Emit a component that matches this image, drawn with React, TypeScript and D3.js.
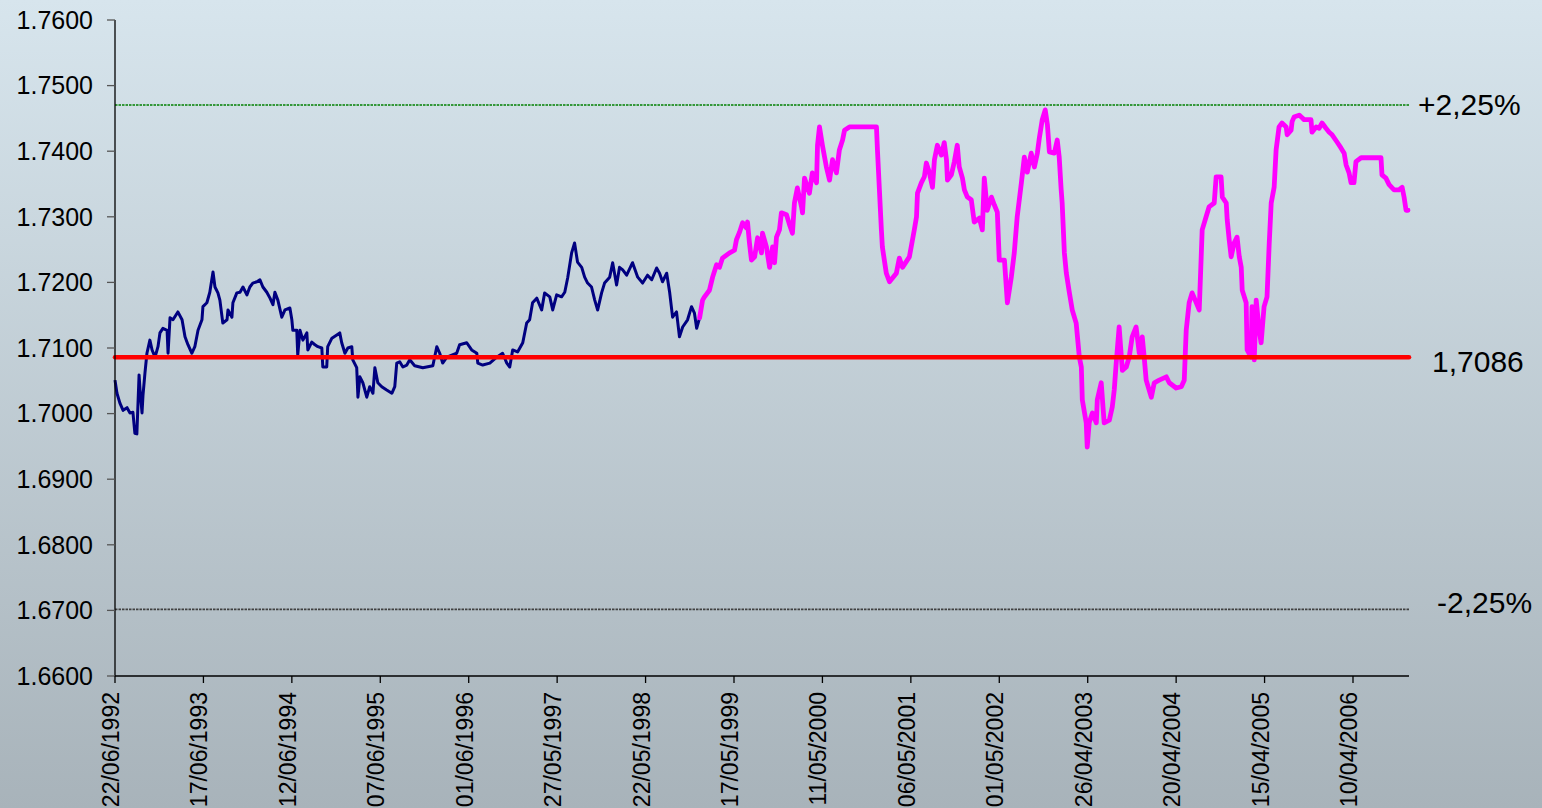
import React, { useEffect } from "react";
import * as d3 from "d3";

// Days since 22/06/1992, exchange rate
const startDate = "22/06/1992";
const lastDay = 5268;
const centralRate = 1.7086;
const bandPct = 0.0225;

const xTickLabels = [
  "22/06/1992", "17/06/1993", "12/06/1994", "07/06/1995", "01/06/1996",
  "27/05/1997", "22/05/1998", "17/05/1999", "11/05/2000", "06/05/2001",
  "01/05/2002", "26/04/2003", "20/04/2004", "15/04/2005", "10/04/2006",
];
const yTicks = [1.66, 1.67, 1.68, 1.69, 1.7, 1.71, 1.72, 1.73, 1.74, 1.75, 1.76];
const bandLabels = ["+2,25%", "1,7086", "-2,25%"];

const bluePoints: [number, number][] = [
  [0,1.7051],[8,1.7031],[20,1.7016],[33,1.7005],[49,1.7009],[61,1.7001],[73,1.7002],[81,1.6970],[89,1.6969],
  [98,1.7059],[102,1.7036],[110,1.7001],[114,1.7028],[122,1.7062],[130,1.7092],[142,1.7112],[151,1.7097],
  [163,1.7086],[175,1.7102],[183,1.7123],[195,1.7130],[212,1.7127],[216,1.7092],[224,1.7146],[236,1.7143],
  [256,1.7155],[273,1.7143],[285,1.7117],[297,1.7105],[313,1.7092],[325,1.7102],[338,1.7127],[354,1.7143],
  [358,1.7163],[374,1.7169],[386,1.7185],[399,1.7216],[407,1.7193],[419,1.7184],[427,1.7173],[439,1.7138],
  [456,1.7143],[460,1.7158],[476,1.7147],[480,1.7169],[496,1.7184],[509,1.7185],[521,1.7193],[537,1.7181],
  [549,1.7193],[561,1.7199],[578,1.7201],[590,1.7204],[602,1.7193],[618,1.7185],[631,1.7176],[643,1.7166],
  [651,1.7185],[663,1.7173],[679,1.7147],[692,1.7158],[712,1.7161],[720,1.7143],[724,1.7127],[740,1.7127],
  [744,1.7089],[753,1.7127],[765,1.7112],[781,1.7123],[785,1.7097],[801,1.7109],[814,1.7105],[826,1.7102],
  [842,1.7100],[846,1.7071],[862,1.7071],[866,1.7102],[883,1.7115],[903,1.7120],[915,1.7123],[923,1.7108],
  [936,1.7092],[948,1.7100],[964,1.7102],[968,1.7082],[984,1.7070],[989,1.7025],[997,1.7056],[1009,1.7047],
  [1025,1.7025],[1037,1.7041],[1050,1.7031],[1058,1.7070],[1070,1.7047],[1086,1.7041],[1106,1.7036],
  [1127,1.7031],[1139,1.7041],[1147,1.7077],[1159,1.7079],[1172,1.7071],[1188,1.7074],[1200,1.7082],
  [1220,1.7073],[1253,1.7070],[1294,1.7073],[1310,1.7102],[1322,1.7092],[1334,1.7077],[1351,1.7086],
  [1391,1.7092],[1403,1.7105],[1432,1.7108],[1452,1.7097],[1473,1.7092],[1477,1.7077],[1497,1.7074],
  [1526,1.7077],[1554,1.7086],[1578,1.7092],[1595,1.7077],[1607,1.7071],[1619,1.7097],[1639,1.7094],
  [1660,1.7108],[1676,1.7138],[1688,1.7143],[1700,1.7169],[1717,1.7176],[1737,1.7158],[1749,1.7184],
  [1770,1.7178],[1782,1.7158],[1798,1.7181],[1818,1.7178],[1831,1.7185],[1843,1.7207],[1859,1.7245],
  [1871,1.7260],[1883,1.7231],[1900,1.7223],[1912,1.7208],[1924,1.7199],[1940,1.7193],[1953,1.7173],
  [1965,1.7158],[1981,1.7184],[1993,1.7199],[2014,1.7208],[2026,1.7230],[2042,1.7196],[2054,1.7223],
  [2067,1.7219],[2083,1.7211],[2107,1.7230],[2128,1.7208],[2148,1.7199],[2168,1.7211],[2185,1.7204],
  [2205,1.7222],[2217,1.7214],[2229,1.7201],[2246,1.7214],[2258,1.7185],[2270,1.7147],[2286,1.7155],
  [2298,1.7117],[2311,1.7132],[2331,1.7143],[2347,1.7163],[2359,1.7153],[2368,1.7130],[2380,1.7146],
];

const magentaPoints: [number, number][] = [
  [2380,1.7146],[2392,1.7173],[2400,1.7178],[2420,1.7188],[2433,1.7208],[2449,1.7227],[2461,1.7223],
  [2473,1.7237],[2502,1.7245],[2522,1.7249],[2530,1.7265],[2543,1.7277],[2555,1.7291],[2571,1.7283],
  [2575,1.7292],[2583,1.7260],[2591,1.7234],[2604,1.7239],[2616,1.7268],[2632,1.7245],[2636,1.7275],
  [2652,1.7254],[2665,1.7223],[2677,1.7254],[2685,1.7230],[2693,1.7269],[2705,1.7280],[2713,1.7306],
  [2734,1.7303],[2746,1.7288],[2758,1.7275],[2766,1.7321],[2778,1.7344],[2795,1.7315],[2799,1.7306],
  [2807,1.7359],[2827,1.7336],[2839,1.7367],[2856,1.7352],[2860,1.7409],[2868,1.7437],[2880,1.7409],
  [2896,1.7376],[2909,1.7356],[2921,1.7387],[2937,1.7367],[2949,1.7402],[2962,1.7417],[2970,1.7432],
  [2990,1.7437],[3100,1.7437],[3104,1.7402],[3112,1.7341],[3120,1.7280],[3124,1.7254],[3140,1.7214],
  [3153,1.7201],[3181,1.7214],[3193,1.7237],[3206,1.7223],[3234,1.7239],[3254,1.7280],[3263,1.7300],
  [3267,1.7336],[3283,1.7352],[3295,1.7361],[3303,1.7382],[3315,1.7368],[3328,1.7345],[3336,1.7387],
  [3348,1.7409],[3364,1.7394],[3376,1.7413],[3385,1.7387],[3389,1.7356],[3405,1.7364],[3417,1.7384],
  [3429,1.7409],[3437,1.7376],[3450,1.7359],[3458,1.7341],[3470,1.7330],[3486,1.7326],[3498,1.7292],
  [3519,1.7298],[3531,1.7280],[3539,1.7359],[3551,1.7310],[3568,1.7330],[3580,1.7318],[3592,1.7307],
  [3600,1.7234],[3621,1.7234],[3633,1.7169],[3649,1.7208],[3661,1.7245],[3673,1.7300],[3690,1.7352],
  [3702,1.7391],[3714,1.7368],[3730,1.7397],[3743,1.7376],[3755,1.7397],[3763,1.7420],[3775,1.7448],
  [3787,1.7463],[3796,1.7440],[3804,1.7399],[3824,1.7397],[3836,1.7417],[3844,1.7391],[3852,1.7341],
  [3856,1.7321],[3865,1.7245],[3873,1.7214],[3885,1.7185],[3897,1.7158],[3913,1.7138],[3926,1.7086],
  [3934,1.7071],[3938,1.7021],[3954,1.6986],[3958,1.6949],[3966,1.6986],[3979,1.7001],[3995,1.6986],
  [3999,1.7021],[4015,1.7047],[4027,1.6986],[4048,1.6990],[4060,1.7010],[4068,1.7036],[4076,1.7077],
  [4088,1.7132],[4101,1.7066],[4117,1.7071],[4129,1.7086],[4141,1.7117],[4157,1.7132],[4170,1.7092],
  [4182,1.7117],[4190,1.7086],[4198,1.7051],[4219,1.7025],[4231,1.7047],[4251,1.7051],[4280,1.7056],
  [4292,1.7047],[4320,1.7039],[4341,1.7041],[4353,1.7051],[4361,1.7127],[4373,1.7169],[4385,1.7184],
  [4402,1.7169],[4414,1.7158],[4422,1.7239],[4426,1.7280],[4442,1.7300],[4454,1.7315],[4475,1.7321],
  [4483,1.7361],[4503,1.7361],[4508,1.7330],[4524,1.7321],[4528,1.7295],[4536,1.7265],[4544,1.7239],
  [4556,1.7260],[4568,1.7269],[4577,1.7239],[4585,1.7223],[4589,1.7188],[4605,1.7169],[4609,1.7097],
  [4625,1.7086],[4629,1.7163],[4638,1.7082],[4646,1.7173],[4658,1.7127],[4666,1.7108],[4678,1.7163],
  [4690,1.7178],[4699,1.7260],[4707,1.7321],[4719,1.7345],[4727,1.7402],[4739,1.7437],[4751,1.7443],
  [4768,1.7437],[4772,1.7425],[4788,1.7432],[4792,1.7445],[4800,1.7452],[4821,1.7455],[4833,1.7451],
  [4841,1.7448],[4869,1.7448],[4873,1.7429],[4890,1.7437],[4902,1.7435],[4914,1.7443],[4930,1.7435],
  [4943,1.7429],[4955,1.7425],[4975,1.7414],[4991,1.7405],[5004,1.7397],[5012,1.7379],[5024,1.7367],
  [5032,1.7352],[5044,1.7352],[5052,1.7384],[5073,1.7390],[5154,1.7390],[5158,1.7364],[5174,1.7359],
  [5187,1.7349],[5207,1.7341],[5227,1.7341],[5240,1.7345],[5248,1.7330],[5256,1.7310],[5264,1.7310],
];

const W = 1542;
const H = 808;
const left = 115;
const right = 1409;
const top = 20;
const bottom = 676;
const FONT = "'Liberation Sans', Arial, sans-serif";

export default function App() {
  useEffect(() => {
    document.body.style.margin = "0";
    document.body.style.overflow = "hidden";
  }, []);

  const parse = d3.timeParse("%d/%m/%Y");
  const base = parse(startDate) as Date;
  const dayToDate = (d: number) => new Date(base.getTime() + d * 86400000);

  const x = d3.scaleTime().domain([base, dayToDate(lastDay)]).range([left, right]);
  const y = d3.scaleLinear().domain([1.66, 1.76]).range([bottom, top]);

  const line = d3
    .line<[number, number]>()
    .x((d) => x(dayToDate(d[0])))
    .y((d) => y(d[1]));

  const upper = centralRate * (1 + bandPct);
  const lower = centralRate * (1 - bandPct);

  return (
    <svg width={W} height={H} style={{ display: "block" }} fontFamily={FONT}>
      <defs>
        <linearGradient id="bg" x1="0" y1="0" x2="0" y2="1">
          <stop offset="0%" stopColor="#d7e5ed" />
          <stop offset="100%" stopColor="#a8b3ba" />
        </linearGradient>
      </defs>
      <rect x={0} y={0} width={W} height={H} fill="url(#bg)" />

      {/* band lines */}
      <line x1={left} x2={right} y1={y(upper)} y2={y(upper)} stroke="#008000" strokeWidth={1.6} strokeDasharray="2.5,1" />
      <line x1={left} x2={right} y1={y(lower)} y2={y(lower)} stroke="#404040" strokeWidth={1.8} strokeDasharray="2.5,1" />

      {/* series */}
      <path d={line(bluePoints) || ""} fill="none" stroke="#000080" strokeWidth={3} strokeLinejoin="round" />
      <path d={line(magentaPoints) || ""} fill="none" stroke="#ff00ff" strokeWidth={4.8} strokeLinejoin="round" strokeLinecap="round" />

      {/* central rate */}
      <line x1={left} x2={right} y1={y(centralRate)} y2={y(centralRate)} stroke="#ff0000" strokeWidth={4.5} strokeLinecap="round" />

      {/* axes */}
      <line x1={left} x2={left} y1={top} y2={bottom} stroke="#000" strokeWidth={1.3} />
      <line x1={left} x2={right} y1={bottom} y2={bottom} stroke="#000" strokeWidth={1.3} />

      {yTicks.map((t) => (
        <g key={t}>
          <line x1={left - 8} x2={left} y1={y(t)} y2={y(t)} stroke="#555" strokeWidth={1.3} />
          <text x={93} y={y(t)} dy="0.35em" textAnchor="end" fontSize={25} fill="#000">
            {t.toFixed(4)}
          </text>
        </g>
      ))}

      {xTickLabels.map((lbl) => {
        const tx = x(parse(lbl) as Date);
        return (
          <g key={lbl}>
            <line x1={tx} x2={tx} y1={bottom} y2={bottom + 7} stroke="#000" strokeWidth={1.3} />
            <text
              transform={`translate(${tx + 4},${bottom + 16}) rotate(-90)`}
              textAnchor="end"
              fontSize={23}
              fill="#000"
            >
              {lbl}
            </text>
          </g>
        );
      })}

      {/* band labels */}
      <text x={1418} y={115} fontSize={30} fill="#000">{bandLabels[0]}</text>
      <text x={1432} y={372} fontSize={30} fill="#000">{bandLabels[1]}</text>
      <text x={1437} y={613} fontSize={30} fill="#000">{bandLabels[2]}</text>
    </svg>
  );
}
